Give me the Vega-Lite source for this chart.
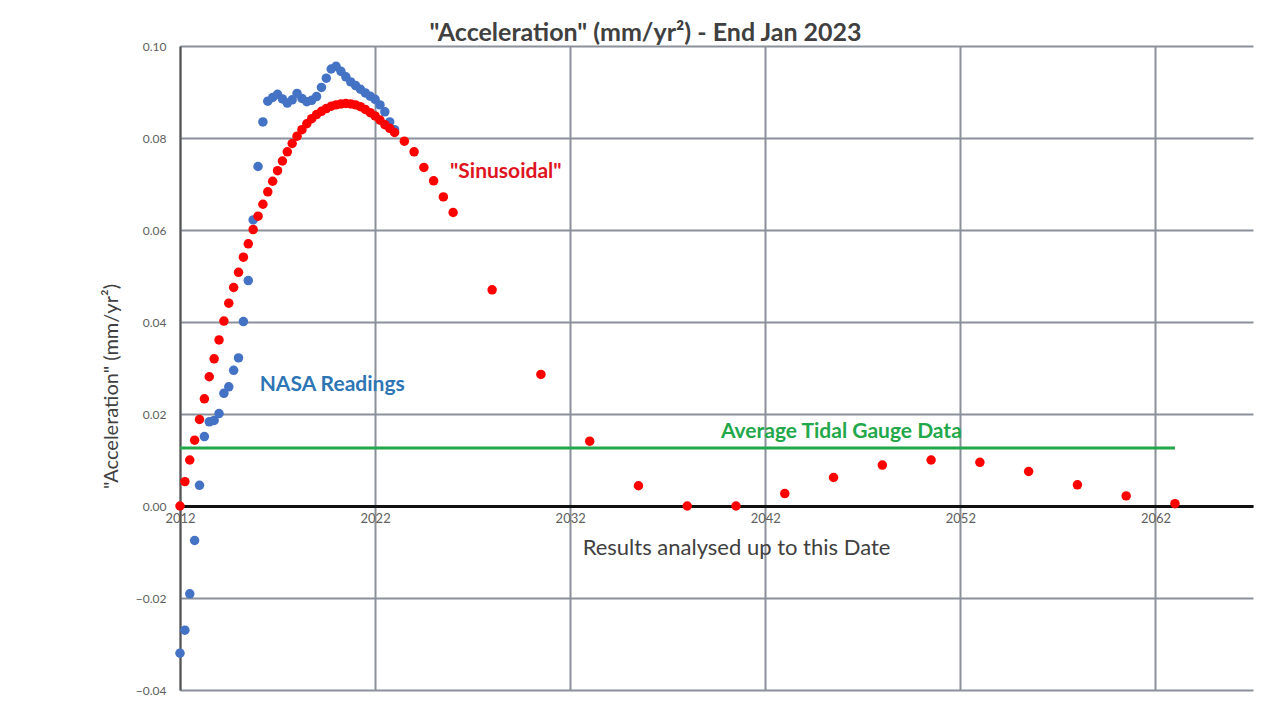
{
  "$schema": "https://vega.github.io/schema/vega-lite/v6.json",
  "width": 1073,
  "height": 644,
  "autosize": {"type": "none"},
  "padding": {"left": 180, "top": 46, "right": 33, "bottom": 30},
  "background": "white",
  "config": {
    "view": {"stroke": null},
    "font": "Lato"
  },
  "title": {
    "text": "\"Acceleration\" (mm/yr²) - End Jan 2023",
    "fontSize": 25,
    "fontWeight": "bold",
    "color": "#404040",
    "font": "Lato",
    "anchor": "middle",
    "frame": "group",
    "dx": -71,
    "offset": -6
  },
  "datasets": {
    "nasa": [
      {"year": 2012.0, "acc": -0.032},
      {"year": 2012.25, "acc": -0.027},
      {"year": 2012.5, "acc": -0.0191},
      {"year": 2012.75, "acc": -0.0075},
      {"year": 2013.0, "acc": 0.0045},
      {"year": 2013.25, "acc": 0.0151},
      {"year": 2013.5, "acc": 0.0183},
      {"year": 2013.75, "acc": 0.0186},
      {"year": 2014.0, "acc": 0.0201},
      {"year": 2014.25, "acc": 0.0245},
      {"year": 2014.5, "acc": 0.0259},
      {"year": 2014.75, "acc": 0.0295},
      {"year": 2015.0, "acc": 0.0322},
      {"year": 2015.25, "acc": 0.0401},
      {"year": 2015.5, "acc": 0.049},
      {"year": 2015.75, "acc": 0.0622},
      {"year": 2016.0, "acc": 0.0738},
      {"year": 2016.25, "acc": 0.0835},
      {"year": 2016.5, "acc": 0.088},
      {"year": 2016.75, "acc": 0.0888},
      {"year": 2017.0, "acc": 0.0895},
      {"year": 2017.25, "acc": 0.0885},
      {"year": 2017.5, "acc": 0.0876},
      {"year": 2017.75, "acc": 0.0883},
      {"year": 2018.0, "acc": 0.0897},
      {"year": 2018.25, "acc": 0.0886},
      {"year": 2018.5, "acc": 0.0879},
      {"year": 2018.75, "acc": 0.0882},
      {"year": 2019.0, "acc": 0.089},
      {"year": 2019.25, "acc": 0.091},
      {"year": 2019.5, "acc": 0.093},
      {"year": 2019.75, "acc": 0.095},
      {"year": 2020.0, "acc": 0.0956},
      {"year": 2020.25, "acc": 0.0945},
      {"year": 2020.5, "acc": 0.0933},
      {"year": 2020.75, "acc": 0.0922},
      {"year": 2021.0, "acc": 0.0914},
      {"year": 2021.25, "acc": 0.0906},
      {"year": 2021.5, "acc": 0.0898},
      {"year": 2021.75, "acc": 0.0891},
      {"year": 2022.0, "acc": 0.0884},
      {"year": 2022.25, "acc": 0.0872},
      {"year": 2022.5, "acc": 0.0857},
      {"year": 2022.75, "acc": 0.0835},
      {"year": 2023.0, "acc": 0.0818}
    ],
    "sinus": [
      {"year": 2012.0, "acc": 0.0},
      {"year": 2012.25, "acc": 0.0053},
      {"year": 2012.5, "acc": 0.01},
      {"year": 2012.75, "acc": 0.0143},
      {"year": 2013.0, "acc": 0.0188},
      {"year": 2013.25, "acc": 0.0233},
      {"year": 2013.5, "acc": 0.0281},
      {"year": 2013.75, "acc": 0.032},
      {"year": 2014.0, "acc": 0.0361},
      {"year": 2014.25, "acc": 0.0402},
      {"year": 2014.5, "acc": 0.0441},
      {"year": 2014.75, "acc": 0.0475},
      {"year": 2015.0, "acc": 0.0508},
      {"year": 2015.25, "acc": 0.0541},
      {"year": 2015.5, "acc": 0.057},
      {"year": 2015.75, "acc": 0.0601},
      {"year": 2016.0, "acc": 0.063},
      {"year": 2016.25, "acc": 0.0656},
      {"year": 2016.5, "acc": 0.0683},
      {"year": 2016.75, "acc": 0.0706},
      {"year": 2017.0, "acc": 0.0729},
      {"year": 2017.25, "acc": 0.075},
      {"year": 2017.5, "acc": 0.077},
      {"year": 2017.75, "acc": 0.0788},
      {"year": 2018.0, "acc": 0.0804},
      {"year": 2018.25, "acc": 0.0818},
      {"year": 2018.5, "acc": 0.0831},
      {"year": 2018.75, "acc": 0.0842},
      {"year": 2019.0, "acc": 0.0851},
      {"year": 2019.25, "acc": 0.0858},
      {"year": 2019.5, "acc": 0.0864},
      {"year": 2019.75, "acc": 0.0869},
      {"year": 2020.0, "acc": 0.0872},
      {"year": 2020.25, "acc": 0.0874},
      {"year": 2020.5, "acc": 0.0875},
      {"year": 2020.75, "acc": 0.0874},
      {"year": 2021.0, "acc": 0.0872},
      {"year": 2021.25, "acc": 0.0868},
      {"year": 2021.5, "acc": 0.0862},
      {"year": 2021.75, "acc": 0.0855},
      {"year": 2022.0, "acc": 0.0848},
      {"year": 2022.25, "acc": 0.0839},
      {"year": 2022.5, "acc": 0.0829},
      {"year": 2022.75, "acc": 0.0821},
      {"year": 2023.0, "acc": 0.0812},
      {"year": 2023.5, "acc": 0.0793},
      {"year": 2024.0, "acc": 0.077},
      {"year": 2024.5, "acc": 0.0736},
      {"year": 2025.0, "acc": 0.0707},
      {"year": 2025.5, "acc": 0.0672},
      {"year": 2026.0, "acc": 0.0638},
      {"year": 2028.0, "acc": 0.047},
      {"year": 2030.5, "acc": 0.0286},
      {"year": 2033.0, "acc": 0.0141},
      {"year": 2035.5, "acc": 0.0044},
      {"year": 2038.0, "acc": 0.0},
      {"year": 2040.5, "acc": 0.0},
      {"year": 2043.0, "acc": 0.0027},
      {"year": 2045.5, "acc": 0.0062},
      {"year": 2048.0, "acc": 0.0089},
      {"year": 2050.5, "acc": 0.01},
      {"year": 2053.0, "acc": 0.0095},
      {"year": 2055.5, "acc": 0.0075},
      {"year": 2058.0, "acc": 0.0046},
      {"year": 2060.5, "acc": 0.0022},
      {"year": 2063.0, "acc": 0.0005}
    ],
    "tidal": [
      {"year": 2012.0, "acc": 0.0126},
      {"year": 2063.0, "acc": 0.0126}
    ],
    "labels": [
      {"year": 2019.8, "acc": 0.0263, "label": "NASA Readings", "series": "nasa"},
      {"year": 2028.7, "acc": 0.0726, "label": "\"Sinusoidal\"", "series": "sinus"},
      {"year": 2045.9, "acc": 0.0161, "label": "Average Tidal Gauge Data", "series": "tidal"}
    ]
  },
  "encoding": {
    "x": {
      "field": "year",
      "type": "quantitative",
      "scale": {"domain": [2012, 2067], "nice": false, "zero": false},
      "axis": {
        "values": [2012, 2022, 2032, 2042, 2052, 2062],
        "format": "d",
        "offset": -184,
        "labelFlush": false,
        "title": "Results analysed up to this Date",
        "titleFontSize": 22,
        "titleFontWeight": "normal",
        "titleColor": "#404040",
        "titlePadding": 12,
        "titleX": 556,
        "labelFontSize": 13,
        "labelColor": "#606060",
        "labelPadding": 6,
        "ticks": false,
        "domainColor": "#111111",
        "domainWidth": 3,
        "gridColor": "#8a919a",
        "gridWidth": 2,
        "gridOpacity": 1
      }
    },
    "y": {
      "field": "acc",
      "type": "quantitative",
      "scale": {"domain": [-0.04, 0.1], "nice": false, "zero": false},
      "axis": {
        "values": [-0.04, -0.02, 0, 0.02, 0.04, 0.06, 0.08, 0.1],
        "format": ".2f",
        "title": "\"Acceleration\" (mm/yr²)",
        "titleFontSize": 20,
        "titleFontWeight": "normal",
        "titleColor": "#404040",
        "titlePadding": 14,
        "titleY": 340,
        "labelFontSize": 12,
        "labelColor": "#606060",
        "labelPadding": 14,
        "ticks": false,
        "domainColor": "#555555",
        "domainWidth": 2,
        "gridColor": "#8a919a",
        "gridWidth": 2,
        "gridOpacity": 1
      }
    }
  },
  "layer": [
    {
      "data": {"name": "tidal"},
      "mark": {"type": "line", "color": "#22a84a", "strokeWidth": 3}
    },
    {
      "data": {"name": "nasa"},
      "mark": {"type": "circle", "color": "#4472c4", "opacity": 1, "size": 90}
    },
    {
      "data": {"name": "sinus"},
      "mark": {"type": "circle", "color": "#ff0000", "opacity": 1, "size": 90}
    },
    {
      "data": {"name": "labels"},
      "mark": {"type": "text", "fontSize": 21, "fontWeight": "bold", "font": "Lato", "align": "center", "baseline": "middle"},
      "encoding": {
        "text": {"field": "label"},
        "color": {
          "field": "series",
          "type": "nominal",
          "scale": {"domain": ["nasa", "sinus", "tidal"], "range": ["#2e75b6", "#e0141e", "#22a84a"]},
          "legend": null
        }
      }
    }
  ]
}
